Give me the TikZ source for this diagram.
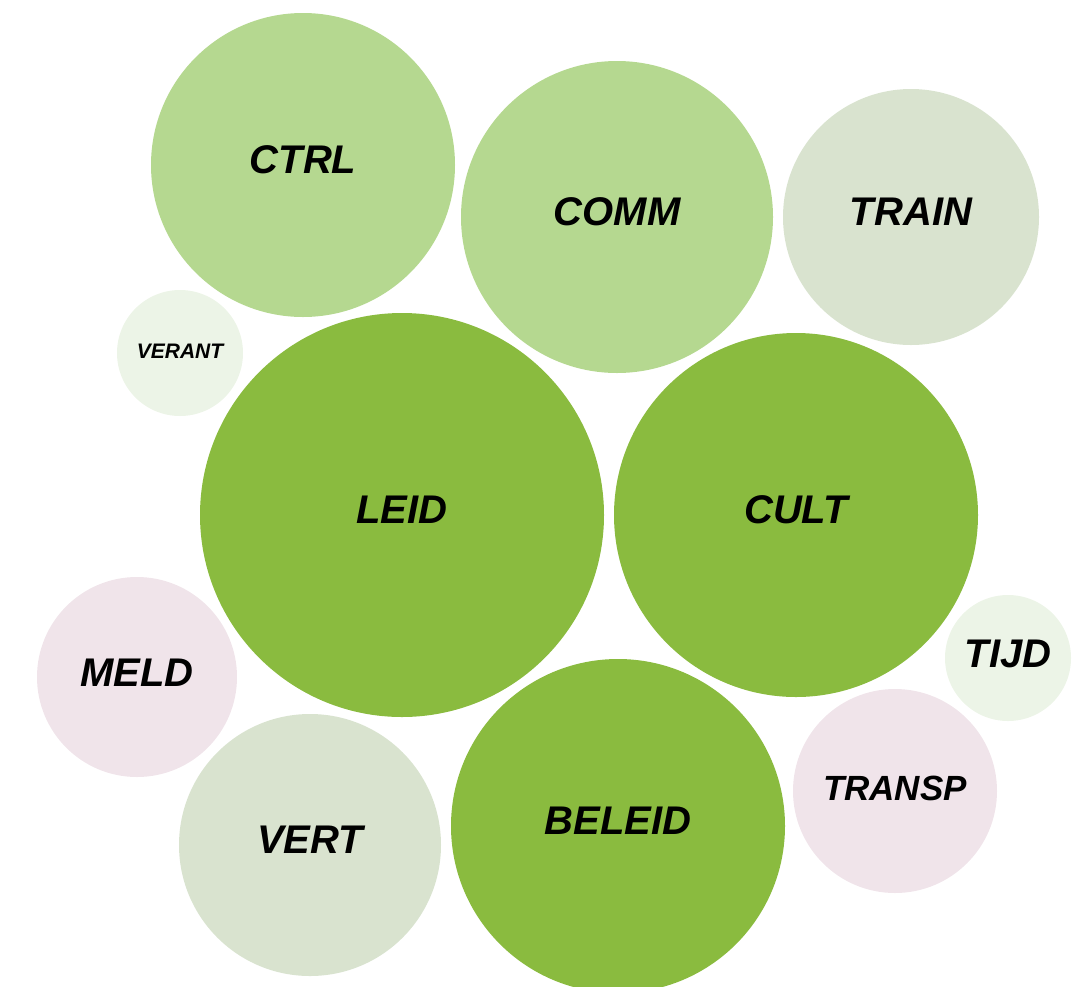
\documentclass[tikz,border=0pt]{standalone}
\usepackage{fontspec}
\setmainfont{Liberation Sans}
\definecolor{dkg}{HTML}{8ABB3F}
\definecolor{ltg}{HTML}{B5D890}
\definecolor{gyg}{HTML}{D9E3CF}
\definecolor{vlg}{HTML}{ECF4E7}
\definecolor{pnk}{HTML}{F0E4EA}
\tikzset{
  bub/.style={circle,inner sep=0pt,minimum size=#1},
  lbl/.style={font=\bfseries\itshape\fontsize{40}{40}\selectfont,text=black,inner sep=0pt},
}
\begin{document}
\begin{tikzpicture}[x=1pt,y=-1pt]
\useasboundingbox (0,0) rectangle (1076,986);
\begin{scope}
\clip (0,0) rectangle (1076,986);
\node[bub=304,fill=ltg] (ctrl) at (303,165) {};
\node[bub=312,fill=ltg] (comm) at (617,217) {};
\node[bub=256,fill=gyg] (train) at (911,217) {};
\node[bub=126,fill=vlg] (verant) at (180,353) {};
\node[bub=404,fill=dkg] (leid) at (402,515) {};
\node[bub=364,fill=dkg] (cult) at (796,515) {};
\node[bub=126,fill=vlg] (tijd) at (1008,658) {};
\node[bub=200,fill=pnk] (meld) at (137,677) {};
\node[bub=204,fill=pnk] (transp) at (895,791) {};
\node[bub=262,fill=gyg] (vert) at (310,845) {};
\node[bub=334,fill=dkg] (beleid) at (618,826) {};
\end{scope}
\node[lbl] at ([yshift=5pt]ctrl.center) {CTRL};
\node[lbl] at ([yshift=5pt]comm.center) {COMM};
\node[lbl] at ([yshift=5pt]train.center) {TRAIN};
\node[lbl,font=\bfseries\itshape\fontsize{21}{21}\selectfont] at ([yshift=2pt]verant.center) {VERANT};
\node[lbl] at ([yshift=5pt]leid.center) {LEID};
\node[lbl] at ([yshift=5pt]cult.center) {CULT};
\node[lbl] at ([yshift=4pt]tijd.center) {TIJD};
\node[lbl] at ([yshift=4pt]meld.center) {MELD};
\node[lbl,font=\bfseries\itshape\fontsize{35}{35}\selectfont] at ([yshift=3pt]transp.center) {TRANSP};
\node[lbl] at ([yshift=5pt]vert.center) {VERT};
\node[lbl] at ([yshift=5pt]beleid.center) {BELEID};
\end{tikzpicture}
\end{document}
